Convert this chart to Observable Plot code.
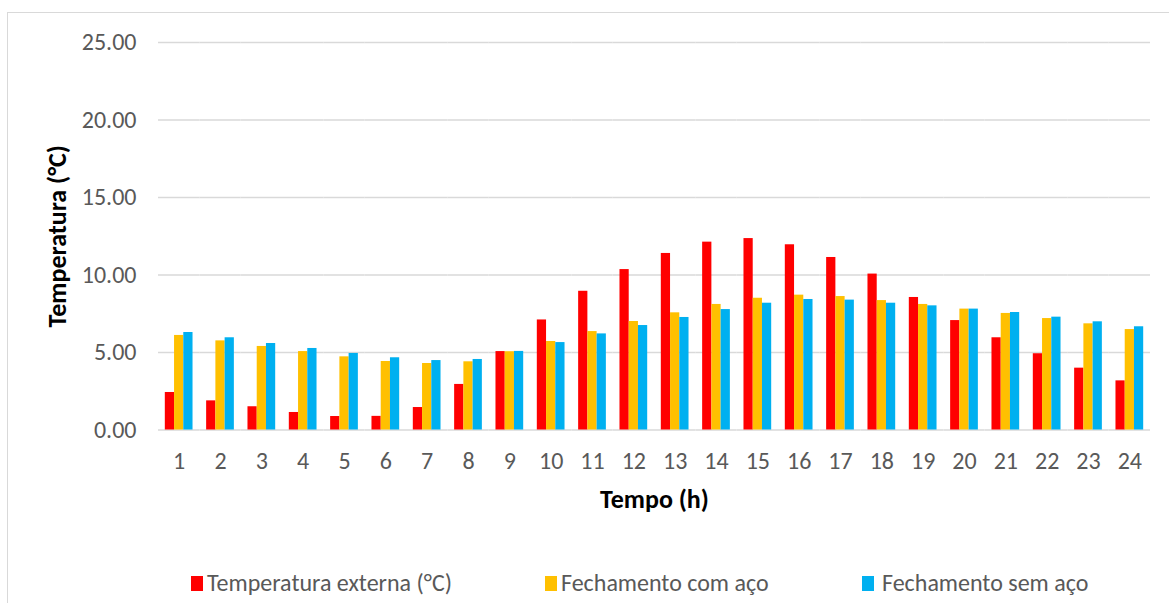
<!DOCTYPE html>
<html><head><meta charset="utf-8">
<script src="https://cdn.jsdelivr.net/npm/d3@7"></script>
<script src="https://cdn.jsdelivr.net/npm/@observablehq/plot@0.6"></script>
<style>
body{margin:0;background:#fff;font-family:Carlito,Calibri,Lato,sans-serif;}
#frame{position:absolute;left:7px;top:12px;width:1250px;height:700px;border:1px solid #d9d9d9;box-sizing:border-box}
#chart{position:absolute;left:0;top:0}
#legend{position:absolute;top:569px;left:0;width:1169px;height:28px;font-size:24px;color:#595959}
.item{position:absolute;top:0;display:flex;align-items:center;white-space:nowrap;line-height:28px}
.sw{width:12px;height:15px;margin-right:4px}
g[aria-label$="axis label"] text{font-weight:bold;fill:#000;font-size:26px}
</style>
</head><body>
<div id="frame"></div>
<div id="chart"></div>
<div id="legend"></div>
<script>
const hours = [1,2,3,4,5,6,7,8,9,10,11,12,13,14,15,16,17,18,19,20,21,22,23,24];
const seriesNames = ["Temperatura externa (°C)", "Fechamento com aço", "Fechamento sem aço"];
const tempExterna = [2.42,1.88,1.50,1.13,0.87,0.88,1.45,2.94,5.06,7.10,8.95,10.35,11.39,12.12,12.35,11.95,11.13,10.06,8.55,7.06,5.95,4.92,3.99,3.17];
const comAco = [6.10,5.75,5.39,5.06,4.72,4.42,4.29,4.40,5.05,5.71,6.35,7.00,7.56,8.10,8.50,8.70,8.61,8.35,8.10,7.80,7.52,7.19,6.85,6.48];
const semAco = [6.29,5.95,5.58,5.26,4.94,4.66,4.48,4.55,5.07,5.64,6.20,6.74,7.26,7.77,8.18,8.42,8.38,8.18,8.01,7.80,7.58,7.28,6.98,6.66];
const colors = ["#ff0000", "#ffc000", "#00b0f0"];
const yTicks = [0,5,10,15,20,25];

const seriesValues = [tempExterna, comAco, semAco];
const data = hours.flatMap((h,i) => seriesNames.map((s,j) => ({hour:h, series:s, value:seriesValues[j][i]})));

const chart = Plot.plot({
  width:1169, height:530,
  marginTop:42, marginBottom:100.5, marginLeft:158, marginRight:19,
  style:{fontFamily:"Carlito, Calibri, Lato, sans-serif", fontSize:"24px", color:"#595959", background:"transparent"},
  y:{domain:[0,25]},
  fx:{domain:hours, padding:0, round:false},
  x:{domain:seriesNames, paddingInner:0, paddingOuter:0.737, round:false, axis:null},
  color:{domain:seriesNames, range:colors},
  marks:[
    Plot.gridY(yTicks.slice(1), {stroke:"#d9d9d9", strokeOpacity:1, strokeWidth:1.5}),
    Plot.ruleY([0], {stroke:"#d9d9d9", strokeWidth:1.5}),
    Plot.barY(data, {fx:"hour", x:"series", y:"value", fill:"series"}),
    Plot.axisY(yTicks, {tickSize:0, tickPadding:22, tickFormat:d3.format(".2f"), fontSize:24, label:"Temperatura (°C)", labelAnchor:"center", labelOffset:111, labelArrow:"none"}),
    Plot.axisFx({anchor:"bottom", tickSize:0, tickPadding:22, fontSize:24, label:"Tempo (h)", labelAnchor:"center", labelOffset:78, labelArrow:"none"})
  ]
});
document.getElementById("chart").appendChild(chart);

const legendPos = [191, 545, 862];
const legend = document.getElementById("legend");
seriesNames.forEach((s,i) => {
  const it = document.createElement("div");
  it.className = "item";
  it.style.left = legendPos[i] + "px";
  const sw = document.createElement("span");
  sw.className = "sw"; sw.style.background = colors[i];
  if (i === 2) sw.style.marginRight = "8px";
  const t = document.createElement("span"); t.textContent = s;
  it.appendChild(sw); it.appendChild(t);
  legend.appendChild(it);
});
</script>
</body></html>
